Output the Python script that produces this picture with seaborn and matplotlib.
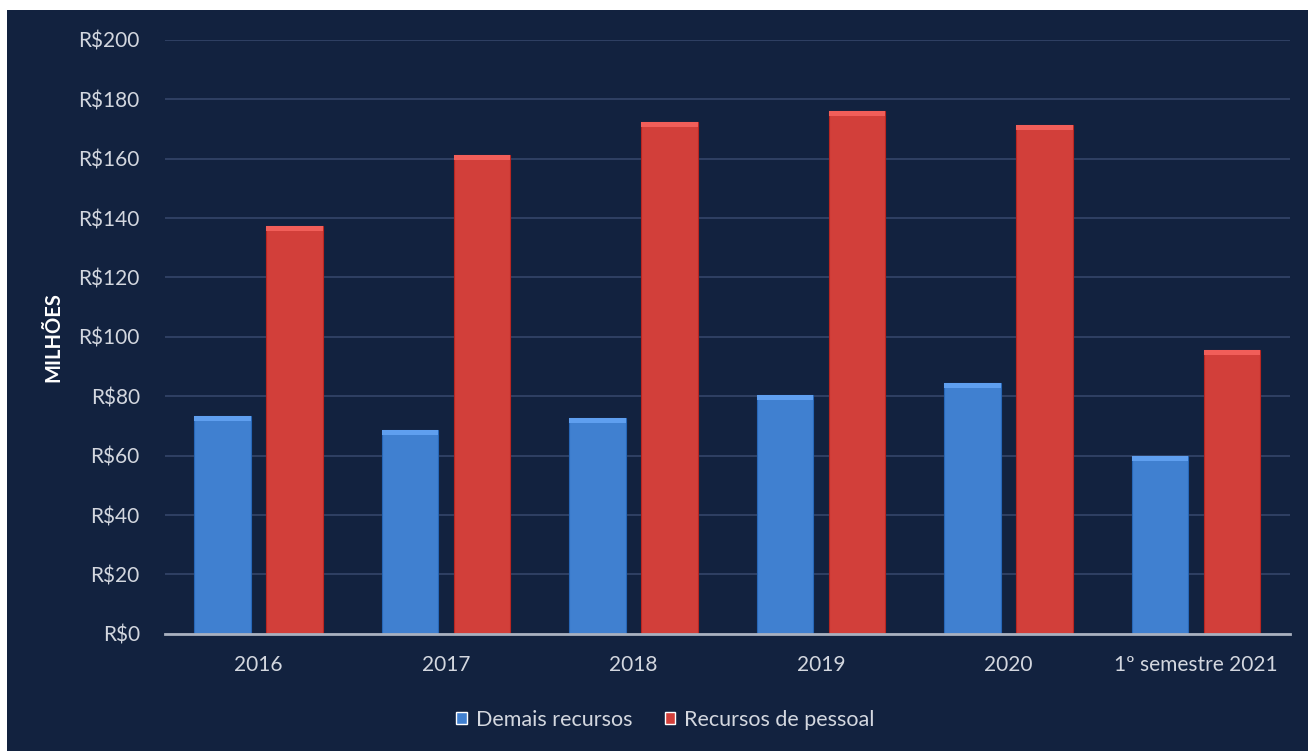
import pandas as pd
import numpy as np
import matplotlib
matplotlib.use("Agg")
import matplotlib.pyplot as plt
from matplotlib.patches import Rectangle
import seaborn as sns

# values in millions of R$
periods = ["2016", "2017", "2018", "2019", "2020", "1º semestre 2021"]
demais = [73.5, 68.7, 72.7, 80.5, 84.5, 59.9]
pessoal = [137.4, 161.3, 172.4, 176.1, 171.4, 95.6]
series_names = ["Demais recursos", "Recursos de pessoal"]
yticks = list(range(0, 201, 20))

df = pd.DataFrame({
    "periodo": periods * 2,
    "valor": demais + pessoal,
    "serie": [series_names[0]] * len(periods) + [series_names[1]] * len(periods),
})

navy = "#12223f"
text_col = "#d3d7df"

sns.set_theme(style="dark")
plt.rcParams["font.family"] = ["Lato", "DejaVu Sans"]

fig = plt.figure(figsize=(13.08, 7.51), dpi=100, facecolor="white")
# dark panel behind the chart (white strip on top and left like the original)
fig.patches.append(Rectangle((7 / 1308, 0), 1, 1 - 10 / 751, transform=fig.transFigure,
                             facecolor=navy, edgecolor="none", zorder=-10))

ax = fig.add_axes([0.126, 0.156, 0.86, 0.791])
ax.set_facecolor(navy)

sns.barplot(data=df, x="periodo", y="valor", hue="serie", order=periods,
            palette=["#4080d0", "#d23f3a"], width=0.77, gap=0.22,
            saturation=1, ax=ax, zorder=3)

# soft bevel on the top of each bar
for bar in list(ax.patches):
    h = bar.get_height()
    if h <= 0:
        continue
    c = bar.get_facecolor()
    light = tuple(min(1, v + 0.12) for v in c[:3])
    bar.set_edgecolor(tuple(max(0, v - 0.10) for v in c[:3]))
    bar.set_linewidth(0.8)
    ax.add_patch(Rectangle((bar.get_x(), h - 1.8), bar.get_width(), 1.8,
                           facecolor=light, edgecolor="none", zorder=4))

ax.set_ylim(0, 200)
ax.set_xlim(-0.5, 5.5)
ax.set_yticks(yticks)
ax.set_yticklabels([f"R${v}" for v in yticks])
ax.yaxis.grid(True, color="#34466a", linewidth=1.2, zorder=0)
ax.xaxis.grid(False)
ax.set_axisbelow(True)
ax.tick_params(axis="both", colors=text_col, labelsize=15, length=0)
ax.tick_params(axis="y", pad=18)
ax.tick_params(axis="x", pad=15)
for s in ["top", "right", "left"]:
    ax.spines[s].set_visible(False)
ax.spines["bottom"].set_color("#a9b1c0")
ax.spines["bottom"].set_linewidth(2)
ax.spines["bottom"].set_zorder(5)

ax.set_xlabel("")
ax.set_ylabel("MILHÕES", color="white", fontsize=14.5, fontweight="bold", labelpad=11)

handles, labels = ax.get_legend_handles_labels()
leg = ax.legend(handles, labels, loc="upper center", bbox_to_anchor=(0.445, -0.095),
                ncol=2, frameon=False, fontsize=15.5, labelcolor=text_col,
                handlelength=0.5, handleheight=0.5, handletextpad=0.4, columnspacing=1.5)

fig.savefig("out.png", dpi=100, facecolor=fig.get_facecolor())
